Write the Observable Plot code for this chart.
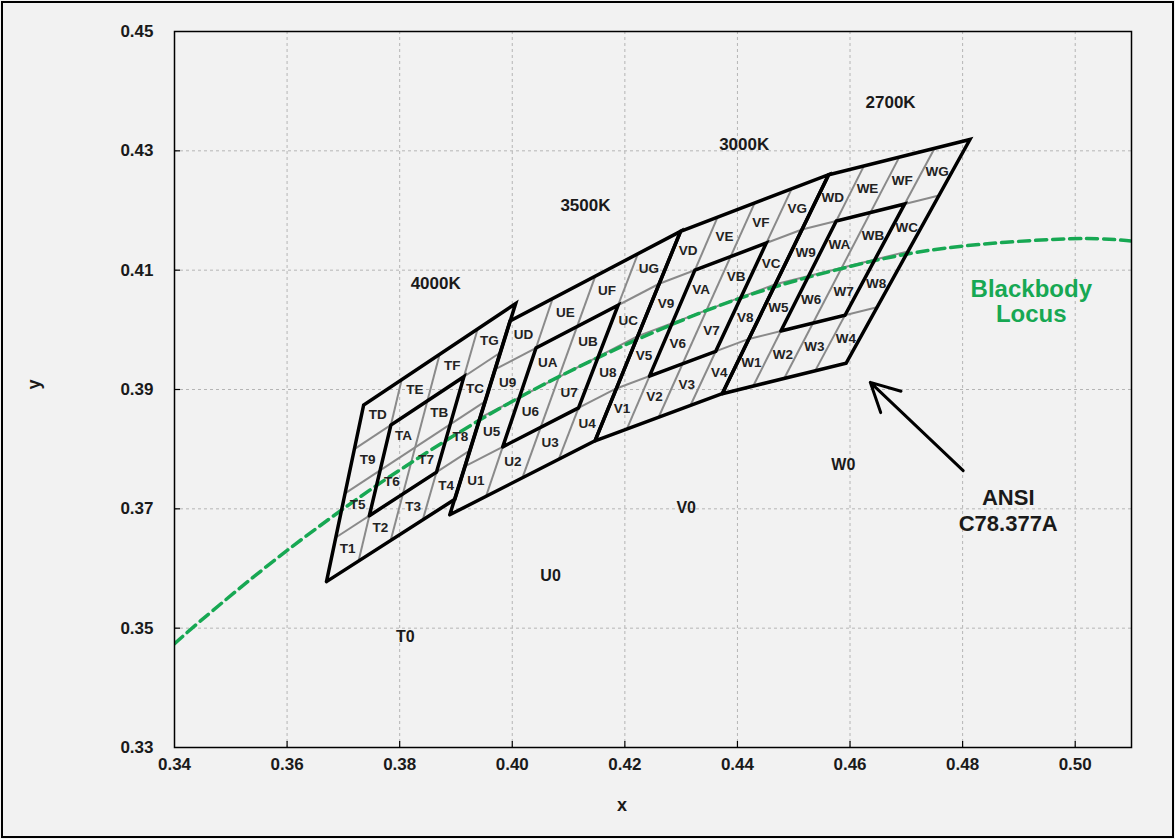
<!DOCTYPE html>
<html><head><meta charset="utf-8">
<script src="https://cdn.jsdelivr.net/npm/d3@7"></script>
<script src="https://cdn.jsdelivr.net/npm/@observablehq/plot@0.6"></script>
<style>
html,body{margin:0;padding:0;background:#f2f2f2;}
#wrap{position:relative;width:1175px;height:839px;overflow:hidden;}
#border{position:absolute;left:1px;top:1px;width:1173px;height:837px;border:2px solid #000;box-sizing:border-box;pointer-events:none;}
svg text{font-weight:bold;}
</style></head><body>
<div id="wrap"><div id="chart"></div><div id="border"></div></div>
<script>
// ---- data ----
const xTicks = [0.34, 0.36, 0.38, 0.40, 0.42, 0.44, 0.46, 0.48, 0.50];
const yTicks = [0.33, 0.35, 0.37, 0.39, 0.41, 0.43, 0.45];
const binPrefixes = ["T", "U", "V", "W"];
const cctNames = ["4000K", "3500K", "3000K", "2700K"];
// ANSI C78.377A quadrangle corners (x, y)
const cornersBL = [[0.3670, 0.3578], [0.3889, 0.3690], [0.4147, 0.3814], [0.4373, 0.3893]];
const cornersBR = [[0.3898, 0.3716], [0.4147, 0.3814], [0.4373, 0.3893], [0.4593, 0.3944]];
const cornersTR = [[0.4006, 0.4044], [0.4299, 0.4165], [0.4562, 0.4260], [0.4813, 0.4319]];
const cornersTL = [[0.3736, 0.3874], [0.3996, 0.4015], [0.4299, 0.4165], [0.4562, 0.4260]];
const subCodes = ["1","2","3","4","5","6","7","8","9","A","B","C","D","E","F","G"];
const cctLabelX = [0.3864, 0.4130, 0.4412, 0.4672];
const cctLabelY = [0.4078, 0.4208, 0.4311, 0.4381];
const zeroLabelX = [0.3810, 0.4068, 0.4309, 0.4588];
const zeroLabelY = [0.3486, 0.3587, 0.3701, 0.3773];
// Blackbody (Planckian) locus points
const locusX = [0.3400, 0.3451, 0.3608, 0.3805, 0.4053, 0.4369, 0.4599, 0.4770, 0.5018, 0.5100];
const locusY = [0.3474, 0.3516, 0.3636, 0.3768, 0.3907, 0.4041, 0.4106, 0.4137, 0.4153, 0.4149];
const annoText = ["Blackbody\nLocus", "ANSI\nC78.377A"];
const annoX = [0.4922, 0.4881];
const annoY = [0.4048, 0.3698];
const arrowFrom = [0.4801, 0.3764];
const arrowTo = [0.4636, 0.3912];

// ---- derived tables ----
function bil(q, u, v) {
  const bl = cornersBL[q], br = cornersBR[q], tr = cornersTR[q], tl = cornersTL[q];
  const w0 = (1-u)*(1-v), w1 = u*(1-v), w2 = u*v, w3 = (1-u)*v;
  return [w0*bl[0]+w1*br[0]+w2*tr[0]+w3*tl[0], w0*bl[1]+w1*br[1]+w2*tr[1]+w3*tl[1]];
}
const thin = [];
const rings = [];
const cells = [];
for (let q = 0; q < 4; q++) {
  for (const f of [0.25, 0.5, 0.75]) {
    const a = bil(q, f, 0), b = bil(q, f, 1), c = bil(q, 0, f), d = bil(q, 1, f);
    thin.push({x1: a[0], y1: a[1], x2: b[0], y2: b[1]});
    thin.push({x1: c[0], y1: c[1], x2: d[0], y2: d[1]});
  }
  for (const [id, lo, hi] of [["o", 0, 1], ["i", 0.25, 0.75]]) {
    for (const [u, v] of [[lo, lo], [hi, lo], [hi, hi], [lo, hi], [lo, lo]]) {
      const p = bil(q, u, v);
      rings.push({id: q + id, x: p[0], y: p[1]});
    }
  }
  subCodes.forEach((s, i) => {
    const p = bil(q, (i % 4 + 0.5) / 4, (Math.floor(i / 4) + 0.5) / 4);
    cells.push({x: p[0], y: p[1], t: binPrefixes[q] + s});
  });
}
const locus = locusX.map((x, i) => ({x, y: locusY[i]}));
const cctLabels = cctNames.map((t, i) => ({t, x: cctLabelX[i], y: cctLabelY[i]}));
const zeroLabels = binPrefixes.map((p, i) => ({t: p + "0", x: zeroLabelX[i], y: zeroLabelY[i]}));

const W = 1175, H = 839, mt = 31, mb = 92, ml = 174, mr = 44;
const plotH = H - mt - mb, plotW = W - ml - mr;

const chart = Plot.plot({
  width: W, height: H,
  marginLeft: ml, marginRight: mr, marginTop: mt, marginBottom: mb,
  style: {background: "#f2f2f2", fontFamily: "'Liberation Sans', Arial, sans-serif", fontSize: "17px", color: "#1a1a1a"},
  x: {domain: [0.34, 0.51]},
  y: {domain: [0.33, 0.45]},
  marks: [
    Plot.ruleX(xTicks.slice(1), {x: d => d, stroke: "#b5b5b5", strokeDasharray: "3,3", strokeWidth: 1}),
    Plot.ruleY(yTicks.slice(1, -1), {y: d => d, stroke: "#b5b5b5", strokeDasharray: "3,3", strokeWidth: 1}),
    Plot.tickX(xTicks.slice(1), {x: d => d, stroke: "#000", strokeWidth: 1.2, insetTop: plotH - 6}),
    Plot.tickY(yTicks.slice(1, -1), {y: d => d, stroke: "#000", strokeWidth: 1.2, insetRight: plotW - 6}),
    Plot.axisX({ticks: xTicks, tickFormat: ".2f", tickSize: 0, tickPadding: 10, label: null, fontSize: 17, fill: "#1a1a1a"}),
    Plot.axisY({ticks: yTicks, tickFormat: ".2f", tickSize: 0, tickPadding: 21, label: null, fontSize: 17, fill: "#1a1a1a"}),
    Plot.text(["x"], {frameAnchor: "bottom", text: d => d, dx: -31, dy: 63, fontSize: 18, fill: "#1a1a1a"}),
    Plot.text(["y"], {frameAnchor: "left", text: d => d, dx: -140, rotate: -90, fontSize: 18, fill: "#1a1a1a"}),
    Plot.link(thin, {x1: "x1", y1: "y1", x2: "x2", y2: "y2", stroke: "#8a8a8a", strokeWidth: 2}),
    Plot.line(locus, {x: "x", y: "y", curve: "catmull-rom", stroke: "#17a853", strokeWidth: 3.5, strokeDasharray: "11,6", clip: true}),
    Plot.line(rings, {x: "x", y: "y", z: "id", stroke: "#000", strokeWidth: 3.5, strokeLinejoin: "miter", strokeMiterlimit: 10}),
    Plot.text(cells, {x: "x", y: "y", text: "t", fontSize: 13.5, fill: "#222"}),
    Plot.text(cctLabels, {x: "x", y: "y", text: "t", fontSize: 17, fill: "#1a1a1a"}),
    Plot.text(zeroLabels, {x: "x", y: "y", text: "t", fontSize: 16, fill: "#1a1a1a"}),
    Plot.text([annoText[0]], {x: () => annoX[0], y: () => annoY[0], text: d => d, fontSize: 24, lineHeight: 1.08, fill: "#17a853"}),
    Plot.text([annoText[1]], {x: () => annoX[1], y: () => annoY[1], text: d => d, fontSize: 22, lineHeight: 1.15, fill: "#1a1a1a"}),
    Plot.arrow([0], {x1: () => arrowFrom[0], y1: () => arrowFrom[1], x2: () => arrowTo[0], y2: () => arrowTo[1], stroke: "#000", strokeWidth: 3, headLength: 16, headAngle: 55}),
    Plot.frame({stroke: "#000", strokeWidth: 1.5})
  ]
});
document.getElementById("chart").append(chart);
</script>
</body></html>
